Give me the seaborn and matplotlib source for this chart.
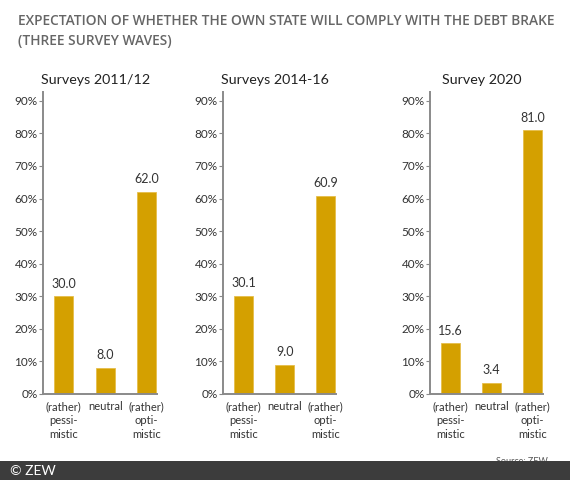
import numpy as np
import pandas as pd
import matplotlib
matplotlib.use("Agg")
import matplotlib.pyplot as plt
import seaborn as sns
from matplotlib.patches import Rectangle

# data
categories = ["(rather)\npessi-\nmistic", "neutral", "(rather)\nopti-\nmistic"]
panel_titles = ["Surveys 2011/12", "Surveys 2014-16", "Survey 2020"]
wave_2011 = [30.0, 8.0, 62.0]
wave_2014 = [30.1, 9.0, 60.9]
wave_2020 = [15.6, 3.4, 81.0]
yticks = [0, 10, 20, 30, 40, 50, 60, 70, 80, 90]
ytick_labels = [f"{t}%" for t in yticks]

waves = [wave_2011, wave_2014, wave_2020]

sns.set_style("white")
plt.rcParams["font.family"] = ["Lato", "DejaVu Sans"]

W, H = 570, 480
fig = plt.figure(figsize=(W / 100, H / 100), dpi=100)
fig.patch.set_facecolor("white")

bar_color = "#D4A000"
text_col = "#333333"
axis_col = "#8a8a8a"

# axes boxes in pixels: left, right
boxes = [(43, 157), (223, 336), (430, 543)]
y_bot, y_top = 394, 92

for (x0, x1), vals, ttl in zip(boxes, waves, panel_titles):
    ax = fig.add_axes([x0 / W, (H - y_bot) / H, (x1 - x0) / W, (y_bot - y_top) / H])
    df = pd.DataFrame({"cat": categories, "val": vals})
    sns.barplot(data=df, x="cat", y="val", color=bar_color, saturation=1,
                width=0.46, edgecolor="#E6BE4A", linewidth=0.6, ax=ax)
    ax.set_xlim(-0.5, 2.25)
    ax.set_ylim(0, 92.7)
    ax.set_yticks(yticks)
    ax.set_yticklabels(ytick_labels, fontsize=8.5, color=text_col)
    ax.set_xlabel("")
    ax.set_ylabel("")
    ax.tick_params(axis="y", length=3, width=0.8, color=axis_col, pad=1, left=True)
    ax.tick_params(axis="x", length=0, pad=5, labelsize=8.0, labelcolor=text_col)
    for lab in ax.get_xticklabels():
        lab.set_linespacing(1.35)
        lab.set_horizontalalignment("center")
        lab.set_multialignment("center")
    for s in ["top", "right"]:
        ax.spines[s].set_visible(False)
    for s in ["left", "bottom"]:
        ax.spines[s].set_color(axis_col)
        ax.spines[s].set_linewidth(1.4)
    for i, v in enumerate(vals):
        ax.text(i, v + 2.0, f"{v:.1f}", ha="center", va="bottom", fontsize=9, color=text_col)
    ax.set_title(ttl, fontsize=10.3, color="#222222", pad=6, x=0.46)

title_font = ["Open Sans", "DejaVu Sans"]
fig.text(18 / W, 1 - 21 / H, "EXPECTATION OF WHETHER THE OWN STATE WILL COMPLY WITH THE DEBT BRAKE",
         fontsize=9.9, fontweight="semibold", color="#666666", va="center", ha="left",
         family=title_font)
fig.text(18 / W, 1 - 41 / H, "(THREE SURVEY WAVES)",
         fontsize=9.9, fontweight="semibold", color="#666666", va="center", ha="left",
         family=title_font)

fig.text(548 / W, 1 - 462 / H, "Source: ZEW", fontsize=6.5, color="#555555",
         ha="right", va="center", zorder=1)
fig.patches.append(Rectangle((0, 0), 1, 19 / H, transform=fig.transFigure,
                             facecolor="#3c3c3c", edgecolor="none", zorder=5))
fig.text(10 / W, 9 / H, "© ZEW", fontsize=10, color="white", ha="left", va="center", zorder=6)

fig.savefig("out.png", dpi=100)
